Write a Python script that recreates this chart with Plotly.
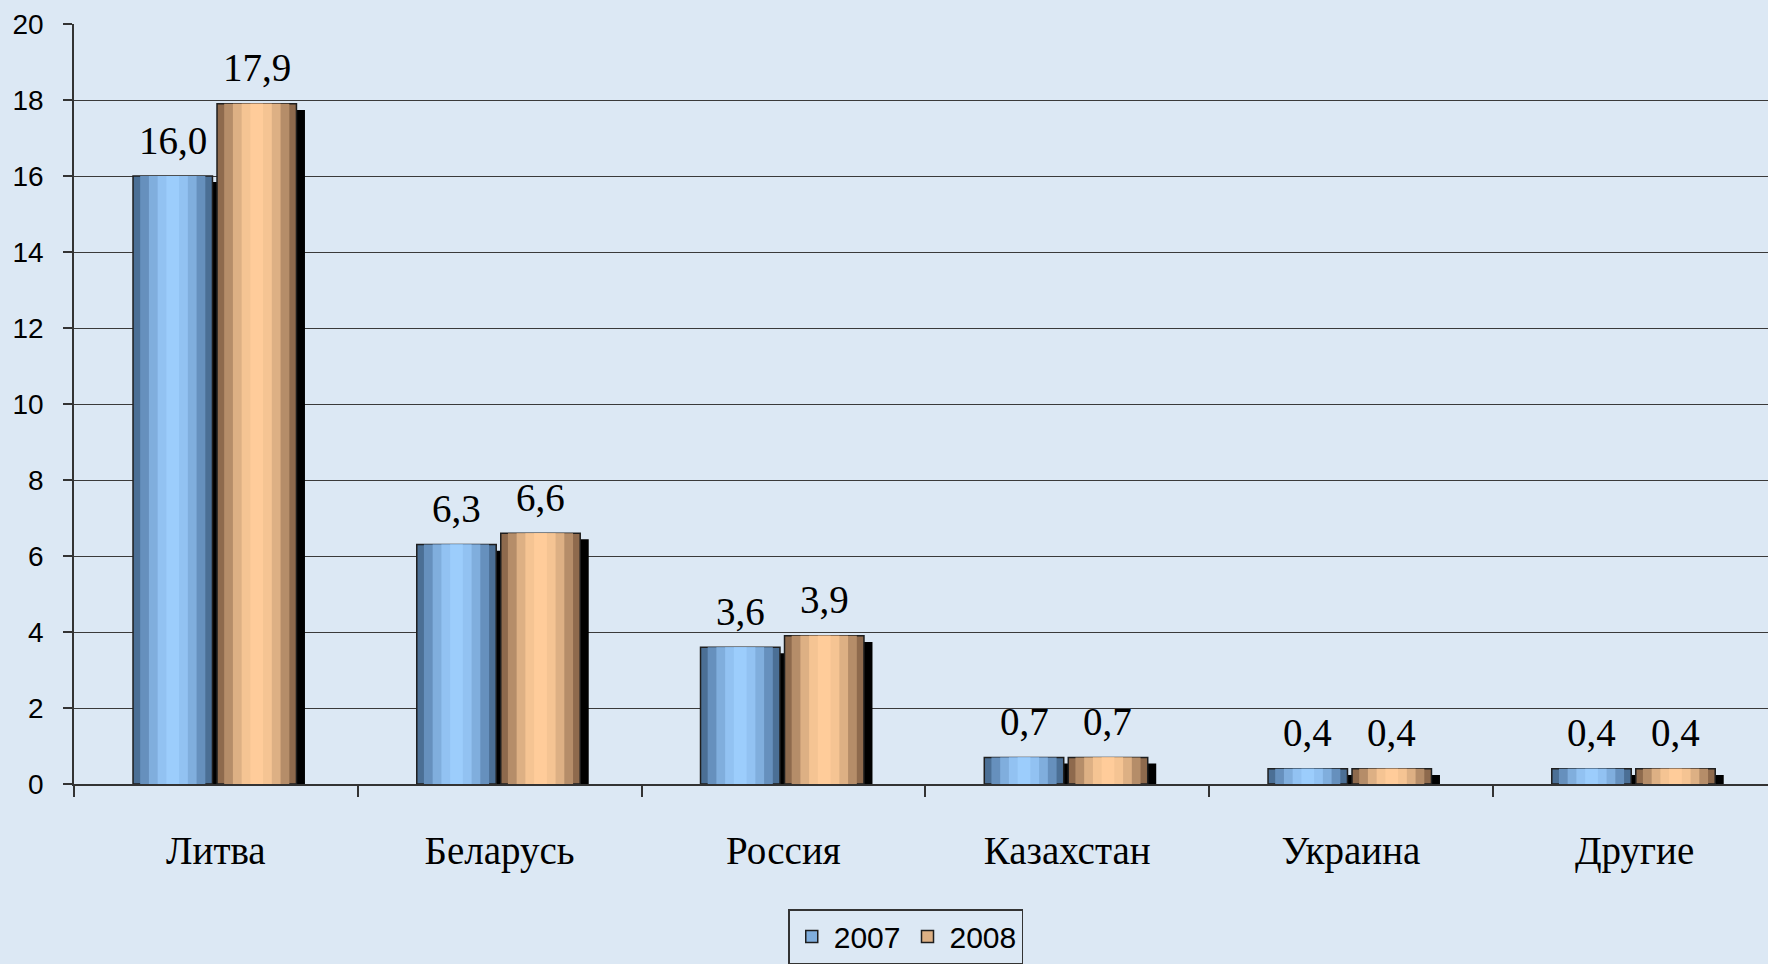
import plotly.graph_objects as go

categories = ["Литва", "Беларусь", "Россия", "Казахстан", "Украина", "Другие"]
values_2007 = [16.0, 6.3, 3.6, 0.7, 0.4, 0.4]
values_2008 = [17.9, 6.6, 3.9, 0.7, 0.4, 0.4]
y_ticks = [0, 2, 4, 6, 8, 10, 12, 14, 16, 18, 20]

BG = "#DCE8F4"
SERIF = "Liberation Serif, Times New Roman, serif"
SANS = "Liberation Sans, Arial, sans-serif"

# gradient layers (outer -> inner), as (width fraction, colour)
blue_layers = [(1.0, "#4B6F95"), (0.82, "#6690BD"), (0.6, "#80AEDD"), (0.38, "#92C2F2"), (0.16, "#9CCDFC")]
orange_layers = [(1.0, "#8E6A4D"), (0.82, "#B58D69"), (0.6, "#DDB084"), (0.38, "#F5C493"), (0.16, "#FFCC9A")]

BAR_W = 0.28
CAT_PX = 283.7
series = [
    ("2007", values_2007, -0.292, blue_layers),
    ("2008", values_2008, 0.004, orange_layers),
]

fig = go.Figure()

# drop shadows
for name, vals, off, _ in series:
    fig.add_trace(go.Bar(
        x=categories, y=vals, base=-0.16, offset=off + 0.03, width=BAR_W,
        marker=dict(color="#000000", line=dict(width=0)),
        showlegend=False, hoverinfo="skip",
    ))

annotations = []
for name, vals, off, layers in series:
    for i, (frac, col) in enumerate(layers):
        w = BAR_W * frac
        o = off + (BAR_W - w) / 2
        fig.add_trace(go.Bar(
            x=categories, y=vals, offset=o, width=w, name=name,
            marker=dict(color=col,
                        line=dict(width=1.5 if i == 0 else 0, color="#1E1E1E")),
            showlegend=False, legendgroup=name,
            cliponaxis=False,
        ))
    # legend entry (outlined square swatch)
    fig.add_trace(go.Bar(
        x=[categories[0]], y=[None], name=name, legendgroup=name,
        marker=dict(color=layers[2][1], line=dict(width=1.5, color="#1E1E1E")),
        showlegend=True, hoverinfo="skip",
    ))
    for c, v in zip(categories, vals):
        annotations.append(dict(
            x=c, y=v, xref="x", yref="y",
            text=f"{v:.1f}".replace(".", ","), showarrow=False,
            xshift=(off + BAR_W / 2) * CAT_PX, yshift=36, yanchor="middle",
            font=dict(family=SERIF, size=39, color="#000000"),
        ))

fig.update_layout(
    width=1768, height=964,
    paper_bgcolor=BG, plot_bgcolor="rgba(0,0,0,0)",
    barmode="overlay",
    margin=dict(l=74, r=0, t=24, b=178),
    separators=", ",
    showlegend=True,
    annotations=annotations,
    legend=dict(
        orientation="h", x=0.491, xanchor="center", y=-0.165, yanchor="top",
        font=dict(family=SANS, size=30, color="#000000"),
        bgcolor=BG, bordercolor="#333333", borderwidth=1.5,
        itemclick=False, traceorder="normal", itemwidth=34,
    ),
)

fig.update_xaxes(
    type="category", range=[-0.5, 5.47],
    tickson="boundaries", ticks="outside", ticklen=11, tickcolor="#333333", tickwidth=1.5,
    showline=True, linecolor="#333333", linewidth=1.5,
    showgrid=False, ticklabelstandoff=31,
    tickfont=dict(family=SERIF, size=39, color="#000000"),
)
fig.update_yaxes(
    range=[0, 20], tickvals=y_ticks, ticks="outside", ticklen=9,
    tickcolor="#333333", tickwidth=1.5,
    showline=True, linecolor="#333333", linewidth=1.5,
    showgrid=True, gridcolor="#3A3A3A", gridwidth=1.2,
    zeroline=False, ticklabelstandoff=14,
    tickfont=dict(family=SANS, size=28, color="#000000"),
)

fig.write_html(
    "out.html",
    config={"displayModeBar": False},
    post_script="document.body.style.margin='0';document.body.style.background='%s';" % BG,
)
